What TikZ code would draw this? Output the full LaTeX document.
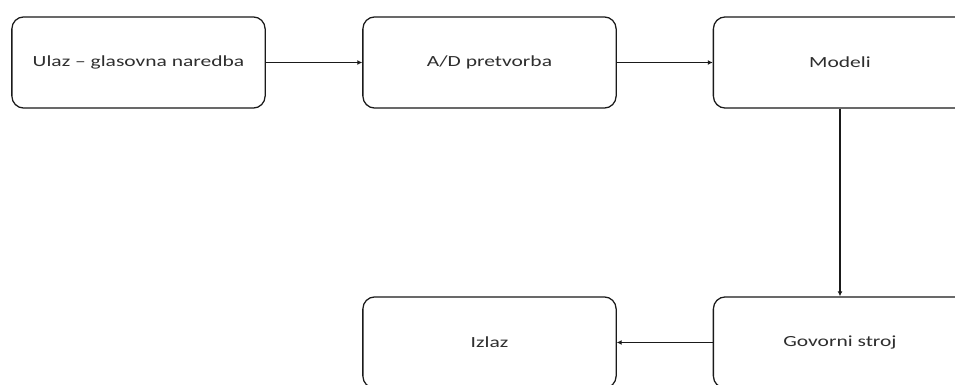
\documentclass[tikz,border=0pt]{standalone}
\usepackage{fontspec}
\setmainfont{Carlito}[FakeStretch=1.39]
\usetikzlibrary{arrows.meta}
\definecolor{boxline}{HTML}{1A1A1A}
\definecolor{txtgray}{HTML}{2E2E2E}

\begin{document}
\begin{tikzpicture}[x=0.025cm, y=-0.025cm, >={Latex[length=3.5pt, width=3.5pt]}]
\tikzset{
  stage/.style={draw=boxline, line width=0.9pt, rounded corners=0.3cm, fill=white,
    minimum width=6.33cm, minimum height=2.28cm, inner sep=0pt,
    text=txtgray, font=\fontsize{11}{13}\selectfont},
  flow/.style={boxline, line width=0.9pt, ->}
}

% Canvas (the right and bottom boxes run off the edge)
\clip (0,0) rectangle (955,385);
\fill[white] (0,0) rectangle (955,385);

% ============================================================
% Top row
% ============================================================
\node[stage] (ulaz) at (138.5,62.5) {Ulaz – glasovna naredba};
\node[stage] (adpt) at (489.5,62.5) {A/D pretvorba};
\node[stage] (modeli) at (840,62.5) {Modeli};

% ============================================================
% Bottom row
% ============================================================
\node[stage] (stroj) at (840,342.5) {Govorni stroj};
\node[stage] (izlaz) at (489.5,342.5) {Izlaz};

% Connectors
\draw[flow] (ulaz) -- (adpt);
\draw[flow] (adpt) -- (modeli);
\draw[flow] (modeli) -- (stroj);
\draw[flow] (stroj) -- (izlaz);

\end{tikzpicture}
\end{document}
